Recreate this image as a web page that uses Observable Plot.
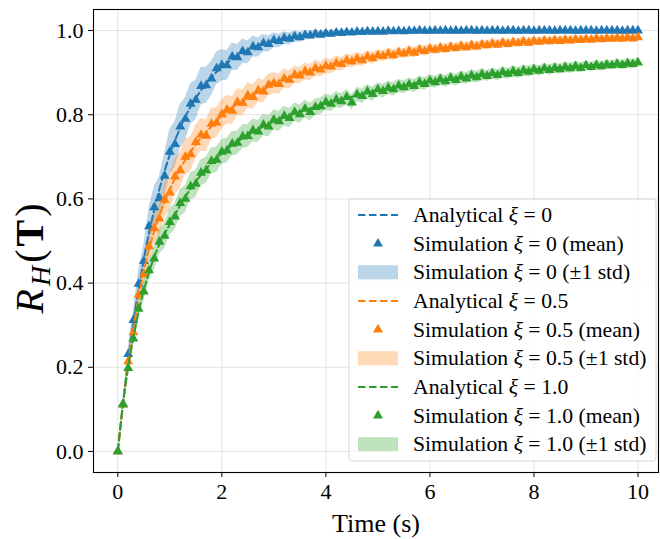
<!DOCTYPE html>
<html><head><meta charset="utf-8">
<script src="https://cdn.jsdelivr.net/npm/d3@7"></script>
<script src="https://cdn.jsdelivr.net/npm/@observablehq/plot@0.6"></script>
<style>
html,body{margin:0;padding:0;background:#fff;}
#chart svg{display:block;font-family:"Liberation Serif",serif;}
</style></head><body><div id="chart"></div>
<script>
// ---- data ----
const seriesNames = ["0", "0.5", "1.0"];
const times = [0,0.1,0.2,0.3,0.4,0.5,0.6,0.7,0.8,0.9,1,1.1,1.2,1.3,1.4,1.5,1.6,1.7,1.8,1.9,2,2.1,2.2,2.3,2.4,2.5,2.6,2.7,2.8,2.9,3,3.1,3.2,3.3,3.4,3.5,3.6,3.7,3.8,3.9,4,4.1,4.2,4.3,4.4,4.5,4.6,4.7,4.8,4.9,5,5.1,5.2,5.3,5.4,5.5,5.6,5.7,5.8,5.9,6,6.1,6.2,6.3,6.4,6.5,6.6,6.7,6.8,6.9,7,7.1,7.2,7.3,7.4,7.5,7.6,7.7,7.8,7.9,8,8.1,8.2,8.3,8.4,8.5,8.6,8.7,8.8,8.9,9,9.1,9.2,9.3,9.4,9.5,9.6,9.7,9.8,9.9,10];
const meanXi0 = [
0,.113,.231,.312,.398,.452,.535,.580,.602,.655,
.712,.730,.772,.790,.826,.835,.868,.870,.886,.910,
.918,.917,.938,.936,.951,.948,.962,.960,.970,.968,
.977,.975,.982,.980,.986,.984,.989,.988,.992,.990,
.993,.992,.995,.994,.996,.995,.997,.996,.998,.997,
.998,.997,.999,.998,.999,.998,.999,.999,1.0,.999,
.999,1.0,.999,1.0,.999,1.0,.999,1.0,1.0,.999,
1.0,.999,1.0,1.0,.999,1.0,1.0,.999,1.0,1.0,
.999,1.0,1.0,1.0,.999,1.0,1.0,1.0,.999,1.0,
1.0,1.0,.999,1.0,1.0,1.0,1.0,.999,1.0,1.0,
1.0];
const stdXi0 = [
0,.007,.015,.023,.031,.038,.044,.048,.051,.053,
.054,.054,.053,.051,.049,.047,.045,.043,.041,.039,
.037,.035,.033,.031,.029,.027,.025,.023,.021,.019,
.018,.016,.015,.014,.013,.012,.011,.010,.009,.008,
.008,.007,.007,.006,.006,.005,.005,.005,.004,.004,
.003,.003,.003,.003,.003,.003,.003,.003,.003,.003,
.003,.003,.003,.002,.002,.002,.002,.002,.002,.002,
.002,.002,.002,.002,.002,.002,.002,.002,.002,.002,
.002,.002,.002,.002,.002,.002,.002,.002,.002,.002,
.002,.002,.002,.002,.002,.002,.002,.002,.002,.002,
.002];
const meanXi05 = [
0,.111,.214,.283,.372,.421,.487,.530,.553,.598,
.615,.653,.668,.700,.706,.735,.752,.750,.778,.781,
.801,.812,.809,.830,.828,.846,.842,.858,.855,.871,
.875,.873,.886,.883,.895,.893,.903,.900,.911,.907,
.916,.914,.922,.920,.929,.926,.933,.929,.938,.934,
.941,.939,.945,.941,.948,.945,.951,.947,.954,.951,
.957,.954,.959,.956,.961,.958,.963,.960,.965,.962,
.967,.965,.969,.966,.971,.968,.972,.970,.974,.971,
.975,.973,.976,.974,.977,.975,.978,.976,.979,.977,
.980,.978,.981,.979,.981,.980,.982,.980,.983,.981,
.984];
const stdXi05 = [
0,.006,.013,.020,.026,.031,.035,.038,.040,.042,
.043,.043,.043,.042,.041,.040,.039,.038,.037,.036,
.035,.034,.033,.032,.031,.030,.029,.028,.027,.026,
.025,.024,.023,.022,.021,.020,.020,.019,.019,.018,
.018,.017,.017,.016,.016,.015,.015,.015,.014,.014,
.013,.013,.013,.013,.012,.012,.012,.012,.012,.012,
.011,.011,.011,.011,.011,.011,.011,.011,.011,.011,
.010,.010,.010,.010,.010,.010,.010,.010,.010,.010,
.009,.009,.009,.009,.009,.009,.009,.009,.009,.009,
.008,.008,.008,.008,.008,.008,.008,.008,.008,.008,
.008];
const meanXi1 = [
0,.112,.198,.268,.339,.380,.430,.458,.498,.512,
.545,.558,.590,.600,.630,.636,.662,.668,.690,.693,
.712,.715,.731,.733,.748,.749,.763,.760,.776,.772,
.788,.784,.797,.792,.806,.801,.814,.806,.818,.820,
.830,.826,.836,.832,.842,.829,.848,.844,.855,.849,
.860,.856,.864,.860,.869,.865,.872,.868,.877,.873,
.881,.877,.884,.879,.887,.882,.890,.886,.893,.889,
.896,.892,.898,.894,.901,.897,.903,.899,.905,.902,
.908,.904,.910,.906,.911,.908,.913,.910,.915,.911,
.917,.913,.918,.915,.919,.917,.921,.918,.922,.920,
.924];
const stdXi1 = [
0,.005,.011,.016,.020,.023,.026,.028,.029,.030,
.031,.031,.032,.032,.032,.032,.031,.031,.031,.030,
.030,.029,.029,.028,.028,.027,.027,.026,.026,.025,
.024,.024,.023,.023,.022,.022,.021,.021,.020,.020,
.019,.019,.019,.018,.018,.018,.017,.017,.017,.017,
.016,.016,.016,.016,.015,.015,.015,.015,.015,.015,
.014,.014,.014,.014,.014,.014,.014,.014,.014,.014,
.013,.013,.013,.013,.013,.013,.013,.013,.013,.013,
.012,.012,.012,.012,.012,.012,.012,.012,.012,.012,
.011,.011,.011,.011,.011,.011,.011,.011,.011,.011,
.011];
const analyticTimes = [0,0.1,0.2,0.3,0.4,0.5,0.6,0.8,1.0,1.2,1.4,1.6,1.8,2.0,2.5,3.0,3.5,4.0,4.5,5.0,6.0,7.0,8.0,9.0,10.0];
const analyticXi0  = [0,.115,.217,.307,.386,.457,.519,.623,.705,.769,.819,.858,.889,.913,.953,.974,.986,.992,.996,.998,.999,1.0,1.0,1.0,1.0];
const analyticXi05 = [0,.112,.210,.292,.365,.428,.480,.560,.622,.672,.712,.745,.772,.798,.840,.872,.895,.913,.928,.939,.955,.966,.974,.979,.983];
const analyticXi1  = [0,.111,.200,.270,.332,.383,.426,.492,.540,.585,.624,.657,.685,.708,.752,.783,.806,.827,.843,.857,.879,.895,.907,.917,.924];
const xTicks = [0, 2, 4, 6, 8, 10];
const yTicks = [0, 0.2, 0.4, 0.6, 0.8, 1.0];

// ---- styles ----
const colors = ["#1f77b4", "#ff7f0e", "#2ca02c"];

const means = [meanXi0, meanXi05, meanXi1];
const stds = [stdXi0, stdXi05, stdXi1];
const analytics = [analyticXi0, analyticXi05, analyticXi1];

const sim = [], ana = [];
means.forEach((m, k) => times.forEach((t, i) => sim.push({k, t, mean: m[i], lo: m[i] - stds[k][i], hi: m[i] + stds[k][i]})));
analytics.forEach((a, k) => analyticTimes.forEach((t, i) => ana.push({k, t, v: a[i]})));

const marks = [
  Plot.gridX(xTicks, {stroke: "#b0b0b0", strokeOpacity: 0.35, strokeWidth: 1}),
  Plot.gridY(yTicks, {stroke: "#b0b0b0", strokeOpacity: 0.35, strokeWidth: 1}),
];
[0,1,2].forEach(k => marks.push(Plot.areaY(sim.filter(d => d.k === k), {x: "t", y1: "lo", y2: "hi", fill: colors[k], fillOpacity: 0.3})));
[0,1,2].forEach(k => {
  marks.push(Plot.line(ana.filter(d => d.k === k), {x: "t", y: "v", stroke: colors[k], strokeWidth: 2, strokeDasharray: "7.5,3.5", curve: "monotone-x"}));
  marks.push(Plot.dot(sim.filter(d => d.k === k), {x: "t", y: "mean", symbol: "triangle", r: 3.7, fill: colors[k], stroke: "none"}));
});
marks.push(Plot.frame({stroke: "#000", strokeWidth: 1.1}));
marks.push(Plot.axisX(xTicks, {tickSize: 5, tickPadding: 6, fontSize: 22, label: null, tickFormat: d => String(d), stroke: "#000"}));
marks.push(Plot.axisY(yTicks, {tickSize: 5, tickPadding: 5, fontSize: 22, label: null, tickFormat: d3.format(".1f"), stroke: "#000"}));

const chart = Plot.plot({
  width: 660, height: 539,
  marginLeft: 93, marginRight: 2, marginTop: 9, marginBottom: 67,
  x: {domain: [-0.467, 10.394]},
  y: {domain: [-0.05, 1.05]},
  style: {fontFamily: "Liberation Serif, serif", color: "#000", background: "#fff"},
  marks
});
document.getElementById("chart").appendChild(chart);

// ---- labels & legend ----
const svg = d3.select(chart);
svg.append("text").attr("x", 376).attr("y", 523).attr("text-anchor", "middle").attr("dominant-baseline", "central")
  .attr("font-size", 26).attr("fill", "#000").text("Time (s)");

const yl = svg.append("text").attr("transform", "translate(43,257) rotate(-90)").attr("text-anchor", "middle")
  .attr("font-size", 40).attr("letter-spacing", 3).attr("fill", "#000");
yl.append("tspan").attr("font-style", "italic").text("R");
yl.append("tspan").attr("font-style", "italic").attr("font-size", 28).attr("dy", 7).text("H");
yl.append("tspan").attr("dy", -7).text("(");
yl.append("tspan").attr("font-weight", "bold").text("T");
yl.append("tspan").text(")");

const lg = svg.append("g");
lg.append("rect").attr("x", 349).attr("y", 199).attr("width", 307).attr("height", 262).attr("rx", 3)
  .attr("fill", "#fff").attr("fill-opacity", 0.8).attr("stroke", "#d6d6d6").attr("stroke-width", 1);
const rowY0 = 215, rowStep = 28.65;
seriesNames.forEach((name, k) => {
  const rows = [["Analytical ", ` = ${name}`], ["Simulation ", ` = ${name} (mean)`], ["Simulation ", ` = ${name} (±1 std)`]];
  rows.forEach((r, j) => {
    const y = rowY0 + (k * 3 + j) * rowStep;
    if (j === 0) lg.append("line").attr("x1", 358).attr("x2", 398).attr("y1", y).attr("y2", y)
      .attr("stroke", colors[k]).attr("stroke-width", 2).attr("stroke-dasharray", "7.5,3.5");
    if (j === 1) lg.append("path").attr("d", d3.symbol(d3.symbolTriangle, 43)()).attr("transform", `translate(378,${y})`).attr("fill", colors[k]);
    if (j === 2) lg.append("rect").attr("x", 358).attr("y", y - 7).attr("width", 40).attr("height", 14).attr("fill", colors[k]).attr("fill-opacity", 0.3);
    const t = lg.append("text").attr("x", 413).attr("y", y).attr("text-anchor", "start").attr("dominant-baseline", "central").attr("font-size", 21.7).attr("fill", "#000");
    t.append("tspan").text(r[0]);
    t.append("tspan").attr("font-style", "italic").text("ξ");
    t.append("tspan").text(r[1]);
  });
});
</script></body></html>
